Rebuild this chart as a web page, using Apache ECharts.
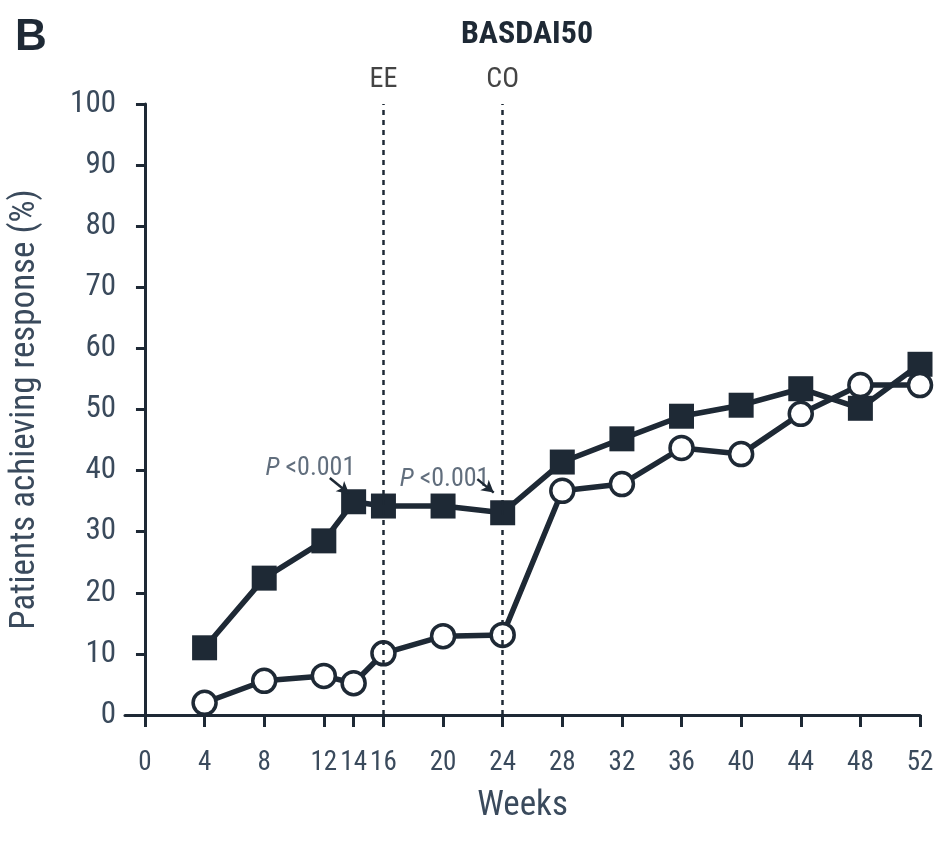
<!DOCTYPE html>
<html>
<head>
<meta charset="utf-8">
<script src="https://cdn.jsdelivr.net/npm/echarts@6/dist/echarts.min.js"></script>
<style>html,body{margin:0;padding:0;background:#fff}#c{width:937px;height:842px}</style>
</head>
<body>
<div id="c"></div>
<script>
var weeks = [4, 8, 12, 14, 16, 20, 24, 28, 32, 36, 40, 44, 48, 52];
var squareValues = [11.0, 22.4, 28.5, 34.9, 34.2, 34.2, 33.1, 41.4, 45.2, 48.9, 50.7, 53.4, 50.2, 57.4];
var circleValues = [2.0, 5.6, 6.4, 5.2, 10.1, 12.9, 13.1, 36.7, 37.8, 43.7, 42.7, 49.3, 54.0, 54.0];
var xTicks = [0, 4, 8, 12, 14, 16, 20, 24, 28, 32, 36, 40, 44, 48, 52];
var yTicks = [0, 10, 20, 30, 40, 50, 60, 70, 80, 90, 100];
var refLines = [{ week: 16, label: 'EE' }, { week: 24, label: 'CO' }];
var pAnnotations = [{ at: [11.1, 40.4], arrowFrom: [12.4, 38.8], arrowTo: [13.7, 36.2] },
                    { at: [20.1, 38.5], arrowFrom: [22.3, 38.6], arrowTo: [23.4, 36.4] }];

var FONT = "'Noto Sans ExtraCondensed', 'Noto Sans Condensed', 'Roboto Condensed', 'Liberation Sans Narrow', 'DejaVu Sans Condensed', sans-serif";
var DARK = '#1e2935';
var TXT = '#3a4a5c';

function pair(a, b) { return a.map(function (v, i) { return [v, b[i]]; }); }

var chart = echarts.init(document.getElementById('c'));
chart.setOption({
  backgroundColor: '#fff',
  animation: false,
  title: [
    { text: 'B', left: 10, top: 11, textStyle: { fontFamily: 'Liberation Sans, sans-serif', fontWeight: 'bold', fontSize: 44, color: DARK } },
    { text: 'BASDAI50', left: 522, top: 14, textAlign: 'center', textStyle: { fontFamily: FONT, fontWeight: 'bold', fontSize: 32, color: DARK } }
  ],
  grid: { left: 125, right: 17, top: 104, bottom: 127, outerBoundsMode: 'none' },
  xAxis: {
    type: 'value', min: -1.34, max: 52,
    name: 'Weeks', nameLocation: 'middle', nameGap: 74,
    nameTextStyle: { fontFamily: FONT, fontSize: 35, color: TXT },
    axisLine: { onZero: false, lineStyle: { color: DARK, width: 3 } },
    axisTick: { customValues: xTicks, length: 12, lineStyle: { color: DARK, width: 3 } },
    axisLabel: { customValues: xTicks, margin: 48, fontFamily: FONT, fontSize: 27, color: TXT, verticalAlign: 'middle' },
    splitLine: { show: false }
  },
  yAxis: {
    type: 'value', min: 0, max: 100, interval: 10,
    name: 'Patients achieving response (%)', nameLocation: 'middle', nameGap: 82, nameRotate: 90,
    nameTextStyle: { fontFamily: FONT, fontSize: 35, color: TXT },
    axisLine: { show: true, onZero: true, lineStyle: { color: DARK, width: 3 } },
    axisTick: { show: true, length: 9, lineStyle: { color: DARK, width: 3 } },
    axisLabel: { margin: 9, fontFamily: FONT, fontSize: 31, color: TXT,
      formatter: function (v) { return yTicks.indexOf(v) >= 0 ? String(v) : ''; } },
    splitLine: { show: false }
  },
  series: [
    {
      type: 'line', data: [], silent: true, clip: false,
      markLine: {
        silent: true, symbol: ['none', 'none'],
        lineStyle: { color: DARK, type: [5, 5], width: 2.5 },
        label: { show: true, position: 'end', distance: 10, fontFamily: FONT, fontSize: 28, color: '#444' },
        data: refLines.map(function (r) {
          return [{ coord: [r.week, 0], label: { formatter: r.label } }, { coord: [r.week, 100] }];
        })
      }
    },
    {
      type: 'line', data: [], silent: true, clip: false,
      markLine: {
        silent: true, symbol: ['none', 'arrow'], symbolSize: [10, 12],
        lineStyle: { color: DARK, type: 'solid', width: 2.5 },
        label: { show: false },
        data: pAnnotations.map(function (p) { return [{ coord: p.arrowFrom }, { coord: p.arrowTo }]; })
      }
    },
    {
      type: 'scatter', silent: true, symbolSize: 0,
      data: pAnnotations.map(function (p) { return p.at; }),
      label: {
        show: true, position: 'inside',
        formatter: '{i|P}{n| <0.001}',
        rich: {
          i: { fontFamily: FONT, fontStyle: 'italic', fontSize: 26, color: TXT },
          n: { fontFamily: FONT, fontSize: 26, color: TXT }
        }
      }
    },
    {
      name: 'filled', type: 'line', data: pair(weeks, squareValues),
      symbol: 'rect', symbolSize: 25, z: 3,
      lineStyle: { color: DARK, width: 5.5 },
      itemStyle: { color: DARK }
    },
    {
      name: 'open', type: 'line', data: pair(weeks, circleValues),
      symbol: 'circle', symbolSize: 23, z: 4,
      lineStyle: { color: DARK, width: 5.5 },
      itemStyle: { color: '#fff', borderColor: DARK, borderWidth: 3.5 }
    }
  ]
});
</script>
</body>
</html>
